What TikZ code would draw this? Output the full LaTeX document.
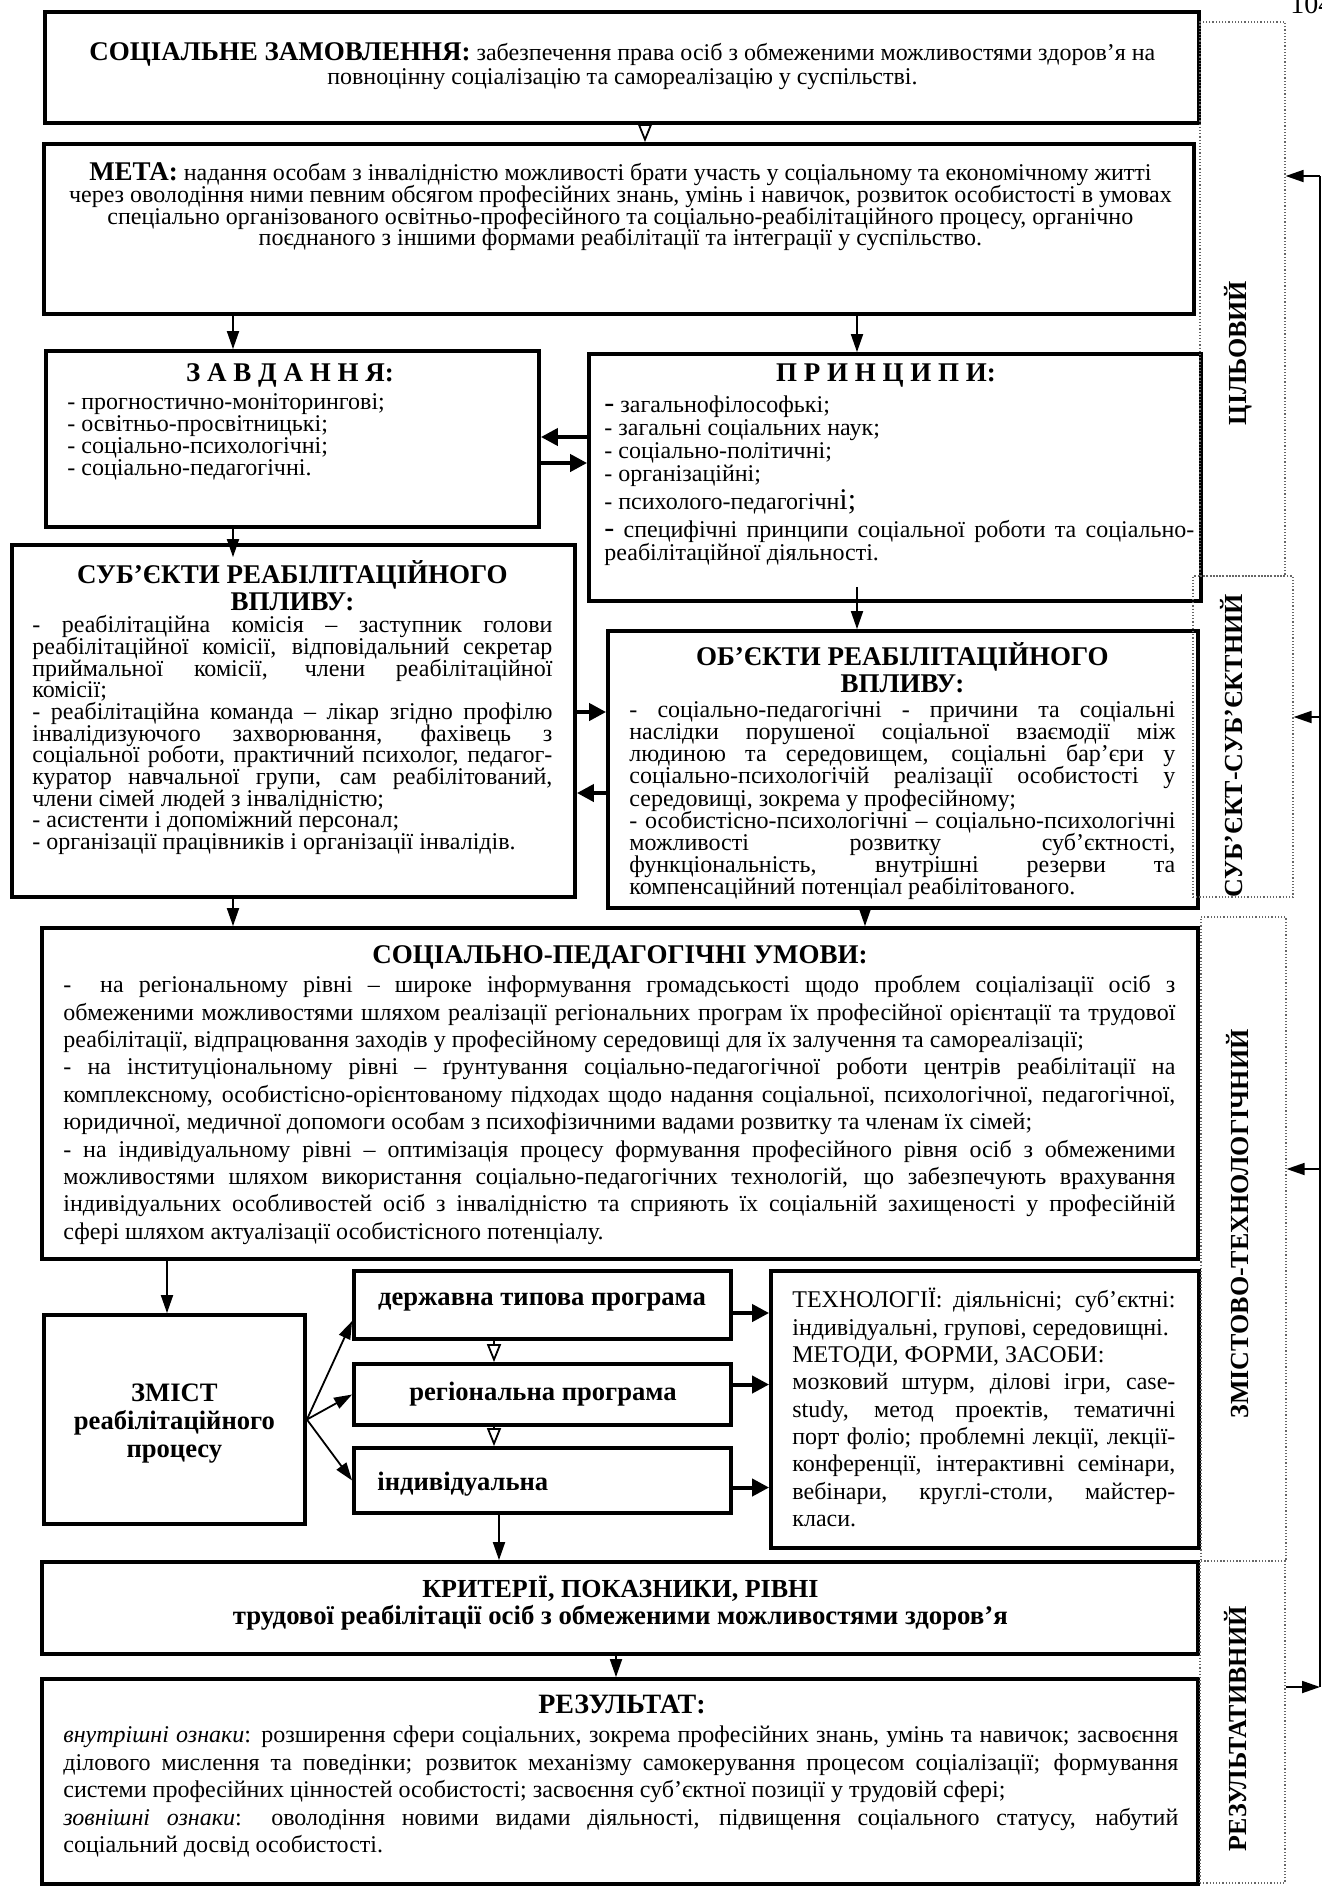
\documentclass[tikz,border=0pt]{standalone}
\usepackage{fontspec}
\setmainfont{Liberation Serif}
\usetikzlibrary{arrows.meta,fit}
\newcommand\fsz[2]{\fontsize{#1pt}{#2pt}\selectfont}
\newcommand\fT{\bfseries\fsz{13.5}{13.5}}
\newcommand\blk[2]{\vbox{\hsize=#1\relax\lineskiplimit=-\maxdimen #2}}
\newcommand\JL[1]{\hbox to\hsize{\vrule height .8em depth 0pt width 0pt#1}}
\newcommand\LL[1]{\hbox{\vrule height .8em depth 0pt width 0pt#1}}
\newcommand\CL[1]{\hbox to\hsize{\hss\vrule height .8em depth 0pt width 0pt#1\hss}}
\tikzset{
  box/.style={draw, line width=1.9pt, inner sep=0pt},
  dbox/.style={draw=black!60, densely dotted, line width=0.6pt, inner sep=0pt},
  arr/.style={line width=0.9pt, -{Triangle[length=9pt,width=6pt]}},
  oarr/.style={line width=0.9pt, -{Triangle[open,length=9pt,width=7pt]}},
  tarr/.style={line width=2pt, -{Triangle[length=8.5pt,width=8.5pt]}},
  txt/.style={anchor=north west, inner sep=0pt},
  ttl/.style={anchor=base, inner sep=0pt, font=\fT},
  lab/.style={inner sep=0pt, rotate=90, font=\bfseries\fsz{13}{13}},
}
\begin{document}
\begin{tikzpicture}[x=0.5pt,y=-0.5pt]
\fill[white] (0,0) rectangle (1322,1886);
\useasboundingbox (0,0) rectangle (1322,1886);
% page number
\node[anchor=base west, inner sep=0pt, font=\fsz{14}{14}] (pg) at (1290,13) {104};
% ---------- boxes ----------
\node[box, fit={(45,12) (1199,123)}] (b1) {};
\node[box, fit={(44,144) (1194,314)}] (b2) {};
\node[box, fit={(46,351) (539,527)}] (b3) {};
\node[box, fit={(589,354) (1201,601)}] (b4) {};
\node[box, fit={(12,545) (575,897)}] (b5) {};
\node[box, fit={(608,631) (1198,908)}] (b6) {};
\node[box, fit={(42,928) (1198,1259)}] (b7) {};
\node[box, fit={(44,1315) (305,1524)}] (b8) {};
\node[box, fit={(354,1271) (731,1339)}] (b9) {};
\node[box, fit={(354,1364) (731,1425)}] (b10) {};
\node[box, fit={(354,1448) (731,1513)}] (b11) {};
\node[box, fit={(771,1271) (1199,1548)}] (b12) {};
\node[box, fit={(42,1562) (1198,1654)}] (b13) {};
\node[box, fit={(42,1679) (1198,1884)}] (b14) {};
% dotted side boxes
\node[dbox, fit={(1200,22) (1285,576)}] (d1) {};
\node[dbox, fit={(1193,576) (1293,897)}] (d2) {};
\node[dbox, fit={(1201,917) (1286,1561)}] (d3) {};
\node[dbox, fit={(1200,1561) (1285,1883)}] (d4) {};
\node[lab] (l1) at (1238,353) {ЦІЛЬОВИЙ};
\node[lab] (l2) at (1232,746) {СУБ’ЄКТ-СУБ’ЄКТНИЙ};
\node[lab] (l3) at (1238,1224) {ЗМІСТОВО-ТЕХНОЛОГІЧНИЙ};
\node[lab] (l4) at (1236,1729) {РЕЗУЛЬТАТИВНИЙ};
% ---------- texts ----------
\node[txt, font=\fsz{12}{12}] (t1) at (50,41) {\blk{572pt}{%
\CL{{\fT СОЦІАЛЬНЕ ЗАМОВЛЕННЯ:} забезпечення права осіб з обмеженими можливостями здоров’я на}%
\CL{повноцінну соціалізацію та самореалізацію у суспільстві.}}};
\node[txt, font=\fsz{12}{10.85}] (t2) at (50,161) {\blk{570pt}{%
\CL{{\fT МЕТА:} надання особам з інвалідністю можливості брати участь у соціальному та економічному житті}%
\CL{через оволодіння ними певним обсягом професійних знань, умінь і навичок, розвиток особистості в умовах}%
\CL{спеціально організованого освітньо-професійного та соціально-реабілітаційного процесу, органічно}%
\CL{поєднаного з іншими формами реабілітації та інтеграції у суспільство.}}};
\node[ttl] (h3) at (290,381) {З А В Д А Н Н Я:};
\node[txt, font=\fsz{12}{11}] (t3) at (67,390) {\blk{230pt}{%
\LL{- прогностично-моніторингові;}%
\LL{- освітньо-просвітницькі;}%
\LL{- соціально-психологічні;}%
\LL{- соціально-педагогічні.}}};
\node[ttl] (h4) at (886,381) {П Р И Н Ц И П И:};
\node[txt, font=\fsz{12}{11.5}] (t4) at (604,393) {\blk{295pt}{%
\LL{{\fsz{15}{15}-} загальнофілософькі;}%
\LL{- загальні соціальних наук;}%
\LL{- соціально-політичні;}%
\LL{- організаційні;}\vskip2.5pt
\LL{- психолого-педагогічн{\fsz{15}{15}і;}}\vskip2.5pt
\JL{{\fsz{15}{15}-} специфічні принципи соціальної роботи та соціально-}%
\LL{реабілітаційної діяльності.}}};
\node[txt, font=\fT] (h5) at (32,560) {\blk{260pt}{%
\CL{СУБ’ЄКТИ РЕАБІЛІТАЦІЙНОГО}\CL{ВПЛИВУ:}}};
\node[txt, font=\fsz{12}{10.85}] (t5) at (32,613) {\blk{260pt}{%
\JL{- реабілітаційна комісія – заступник голови}%
\JL{реабілітаційної комісії, відповідальний секретар}%
\JL{приймальної комісії, члени реабілітаційної}%
\LL{комісії;}%
\JL{- реабілітаційна команда – лікар згідно профілю}%
\JL{інвалідизуючого захворювання, фахівець з}%
\JL{соціальної роботи, практичний психолог, педагог-}%
\JL{куратор навчальної групи, сам реабілітований,}%
\LL{члени сімей людей з інвалідністю;}%
\LL{- асистенти і допоміжний персонал;}%
\LL{- організації працівників і організації інвалідів.}}};
\node[txt, font=\fT] (h6) at (629,642) {\blk{273pt}{%
\CL{ОБ’ЄКТИ РЕАБІЛІТАЦІЙНОГО}\CL{ВПЛИВУ:}}};
\node[txt, font=\fsz{12}{11.05}] (t6) at (629,698) {\blk{273pt}{%
\JL{- соціально-педагогічні - причини та соціальні}%
\JL{наслідки порушеної соціальної взаємодії між}%
\JL{людиною та середовищем, соціальні бар’єри у}%
\JL{соціально-психологічій реалізації особистості у}%
\LL{середовищі, зокрема у професійному;}%
\JL{- особистісно-психологічні – соціально-психологічні}%
\JL{можливості розвитку суб’єктності,}%
\JL{функціональність, внутрішні резерви та}%
\LL{компенсаційний потенціал реабілітованого.}}};
\node[ttl] (h7) at (620,963) {СОЦІАЛЬНО-ПЕДАГОГІЧНІ УМОВИ:};
\node[txt, font=\fsz{12}{13.7}] (t7) at (63,973) {\blk{556pt}{%
\JL{-\hspace{1.2em}на регіональному рівні – широке інформування громадськості щодо проблем соціалізації осіб з}%
\JL{обмеженими можливостями шляхом реалізації регіональних програм їх професійної орієнтації та трудової}%
\LL{реабілітації, відпрацювання заходів у професійному середовищі для їх залучення та самореалізації;}%
\JL{- на інституціональному рівні – ґрунтування соціально-педагогічної роботи центрів реабілітації на}%
\JL{комплексному, особистісно-орієнтованому підходах щодо надання соціальної, психологічної, педагогічної,}%
\LL{юридичної, медичної допомоги особам з психофізичними вадами розвитку та членам їх сімей;}%
\JL{- на індивідуальному рівні –\hspace{0.5em}оптимізація процесу формування професійного рівня осіб з обмеженими}%
\JL{можливостями шляхом використання соціально-педагогічних технологій, що забезпечують врахування}%
\JL{індивідуальних особливостей осіб з інвалідністю та сприяють їх соціальній захищеності у професійній}%
\LL{сфері шляхом актуалізації особистісного потенціалу.}}};
\node[txt, font=\bfseries\fsz{13.3}{14}] (t8) at (54,1380) {\blk{120pt}{%
\CL{ЗМІСТ}\CL{реабілітаційного}\CL{процесу}}};
\node[ttl, font=\bfseries\fsz{13.3}{13.3}] (t9) at (542,1305) {державна типова програма};
\node[ttl, font=\bfseries\fsz{13.3}{13.3}] (t10) at (543,1400) {регіональна програма};
\node[anchor=base west, inner sep=0pt, font=\bfseries\fsz{13.3}{13.3}] (t11) at (377,1490) {індивідуальна};
\node[txt, font=\fsz{12}{13.65}] (t12) at (792,1288) {\blk{191.5pt}{%
\JL{ТЕХНОЛОГІЇ: діяльнісні; суб’єктні:}%
\LL{індивідуальні, групові, середовищні.}%
\LL{МЕТОДИ, ФОРМИ, ЗАСОБИ:}%
\JL{мозковий штурм, ділові ігри, case-}%
\JL{study, метод проектів, тематичні}%
\JL{порт фоліо; проблемні лекції, лекції-}%
\JL{конференції, інтерактивні семінари,}%
\JL{вебінари, круглі-столи, майстер-}%
\LL{класи.}}};
\node[txt, font=\bfseries\fsz{13}{13.75}] (t13) at (50,1575) {\blk{570pt}{%
\CL{КРИТЕРІЇ, ПОКАЗНИКИ, РІВНІ}\CL{\fsz{13.4}{13.4}трудової реабілітації осіб з обмеженими можливостями здоров’я}}};
\node[ttl, font=\bfseries\fsz{14}{14}] (h14) at (622,1713) {РЕЗУЛЬТАТ:};
\node[txt, font=\fsz{12}{13.75}] (t14) at (63,1723) {\blk{557.5pt}{%
\JL{\textit{внутрішні ознаки}: розширення сфери соціальних, зокрема професійних знань, умінь та навичок; засвоєння}%
\JL{ділового мислення та поведінки; розвиток механізму самокерування процесом соціалізації; формування}%
\LL{системи професійних цінностей особистості; засвоєння суб’єктної позиції у трудовій сфері;}%
\JL{\textit{зовнішні ознаки}: оволодіння новими видами діяльності, підвищення соціального статусу, набутий}%
\LL{соціальний досвід особистості.}}};
% ---------- helper coordinates ----------
\coordinate (x233) at (233,0);
\coordinate (x857) at (857,0);
\coordinate (x865) at (865,0);
\coordinate (x645) at (645,0);
\coordinate (x167) at (167,0);
\coordinate (x494) at (494,0);
\coordinate (x499) at (499,0);
\coordinate (x616) at (616,0);
\coordinate (y437) at (0,437);
\coordinate (y463) at (0,463);
\coordinate (y712) at (0,712);
\coordinate (y793) at (0,793);
\coordinate (s5) at ([yshift=-7pt]b5.north);
\coordinate (p4) at ([yshift=8pt]b4.south);
\coordinate (e9) at ([yshift=-4pt]b9.east);
\coordinate (e10) at ([yshift=5pt]b10.east);
\coordinate (e11) at ([yshift=-3.5pt]b11.east);
\coordinate (w9) at ([yshift=-8pt]b9.west);
\coordinate (rtop) at (1320,176);
\coordinate (r2) at (1320,717);
\coordinate (r3) at (1320,1169);
\coordinate (rbot) at (1320,1687);
% ---------- connectors ----------
\draw[oarr] (b1.south -| x645) -- (b2.north -| x645);
\draw[arr] (b2.south -| x233) -- (b3.north -| x233);
\draw[arr] (b2.south -| x857) -- (b4.north -| x857);
\draw[tarr] (b4.west |- y437) -- (b3.east |- y437);
\draw[tarr] (b3.east |- y463) -- (b4.west |- y463);
\draw[arr] (b3.south -| x233) -- (s5 -| x233);
\draw[arr] (p4 -| x857) -- (b6.north -| x857);
\draw[tarr] (b5.east |- y712) -- (b6.west |- y712);
\draw[tarr] (b6.west |- y793) -- (b5.east |- y793);
\draw[arr] (b5.south -| x233) -- (b7.north -| x233);
\draw[arr] (b6.south -| x865) -- (b7.north -| x865);
\draw[arr] (b7.south -| x167) -- (b8.north -| x167);
\draw[arr] (b8.east) -- (w9);
\draw[arr] (b8.east) -- (b10.west);
\draw[arr] (b8.east) -- (b11.west);
\draw[oarr] (b9.south -| x494) -- (b10.north -| x494);
\draw[oarr] (b10.south -| x494) -- (b11.north -| x494);
\draw[tarr] (e9) -- (e9 -| b12.west);
\draw[tarr] (e10) -- (e10 -| b12.west);
\draw[tarr] (e11) -- (e11 -| b12.west);
\draw[arr] (b11.south -| x499) -- (b13.north -| x499);
\draw[arr] (b13.south -| x616) -- (b14.north -| x616);
% right-hand bus
\draw[line width=0.9pt] (rtop) -- (rbot);
\draw[arr] (rtop) -- (rtop -| d1.east);
\draw[arr] (r2) -- (r2 -| d2.east);
\draw[arr] (r3) -- (r3 -| d3.east);
\draw[arr] (rbot -| d4.east) -- (rbot);
\end{tikzpicture}
\end{document}
